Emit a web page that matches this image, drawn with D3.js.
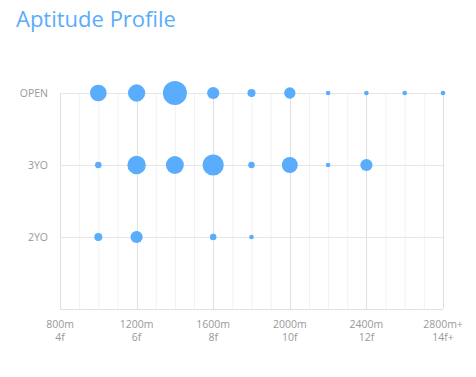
<!DOCTYPE html>
<html><head><meta charset="utf-8">
<script src="https://cdn.jsdelivr.net/npm/d3@7"></script>
<style>body{margin:0;background:#fff}svg{display:block}</style>
</head><body><svg id="c" width="476" height="377"></svg>
<script>
const rows = ["OPEN","3YO","2YO"];
const distances = [1000,1200,1400,1600,1800,2000,2200,2400,2600,2800];
const openVals = [13,14,27,7,3,6,1,1,1,1];
const yo3Vals  = [2,16,15,21,2,12,1,7,0,0];
const yo2Vals  = [3,7,0,2,1,0,0,0,0,0];
const tickMeters = ["800m","1200m","1600m","2000m","2400m","2800m+"];
const tickFurlongs = ["4f","6f","8f","10f","12f","14f+"];
const tickValues = [800,1200,1600,2000,2400,2800];

const svg = d3.select("#c");
const blue = "#5aacfc";
const x = d3.scaleLinear().domain([800,2800]).range([60,443]);
const y = d3.scalePoint().domain([...rows,""]).range([93,309]);
const r = d3.scaleSqrt().domain([0,27]).range([0,12]);

svg.append("text").attr("x",16).attr("y",27).attr("fill","#5aacfc")
  .attr("font-family","'Open Sans',sans-serif").attr("font-size",22).text("Aptitude Profile");

const g = svg.append("g");
g.selectAll("line.minor").data(d3.range(900,2800,100).filter(v=>!tickValues.includes(v)))
  .join("line").attr("x1",d=>x(d)+0.5).attr("x2",d=>x(d)+0.5).attr("y1",y("OPEN")).attr("y2",y(""))
  .attr("stroke","#f2f2f2");
g.selectAll("line.major").data(tickValues)
  .join("line").attr("x1",d=>Math.round(x(d))+0.5).attr("x2",d=>Math.round(x(d))+0.5).attr("y1",y("OPEN")).attr("y2",y(""))
  .attr("stroke","#e0e0e0");
svg.append("g").selectAll("line").data(y.domain())
  .join("line").attr("x1",x(800)).attr("x2",x(2800)).attr("y1",d=>y(d)+0.5).attr("y2",d=>y(d)+0.5)
  .attr("stroke",d=>d===""?"#e0e0e0":"#e6e6e6");

svg.append("g").selectAll("text").data(rows).join("text")
  .attr("x",48).attr("y",d=>y(d)+4).attr("text-anchor","end")
  .attr("fill","#999").attr("font-family","'Open Sans',sans-serif").attr("font-size",10.5).text(d=>d);

const xg = svg.append("g").attr("fill","#999").attr("text-anchor","middle")
  .attr("font-family","'Open Sans',sans-serif").attr("font-size",10.5);
xg.selectAll("text.m").data(tickValues).join("text").attr("class","m")
  .attr("x",d=>x(d)).attr("y",327.5).text((d,i)=>tickMeters[i]);
xg.selectAll("text.f").data(tickValues).join("text").attr("class","f")
  .attr("x",d=>x(d)).attr("y",341).text((d,i)=>tickFurlongs[i]);

const series = [["OPEN",openVals],["3YO",yo3Vals],["2YO",yo2Vals]];
const pts = [];
series.forEach(([row,vals])=>vals.forEach((v,i)=>{ if(v>0) pts.push({row,d:distances[i],v}); }));
svg.append("g").selectAll("circle").data(pts).join("circle")
  .attr("cx",d=>x(d.d)).attr("cy",d=>y(d.row)).attr("r",d=>r(d.v)).attr("fill",blue);
</script></body></html>
